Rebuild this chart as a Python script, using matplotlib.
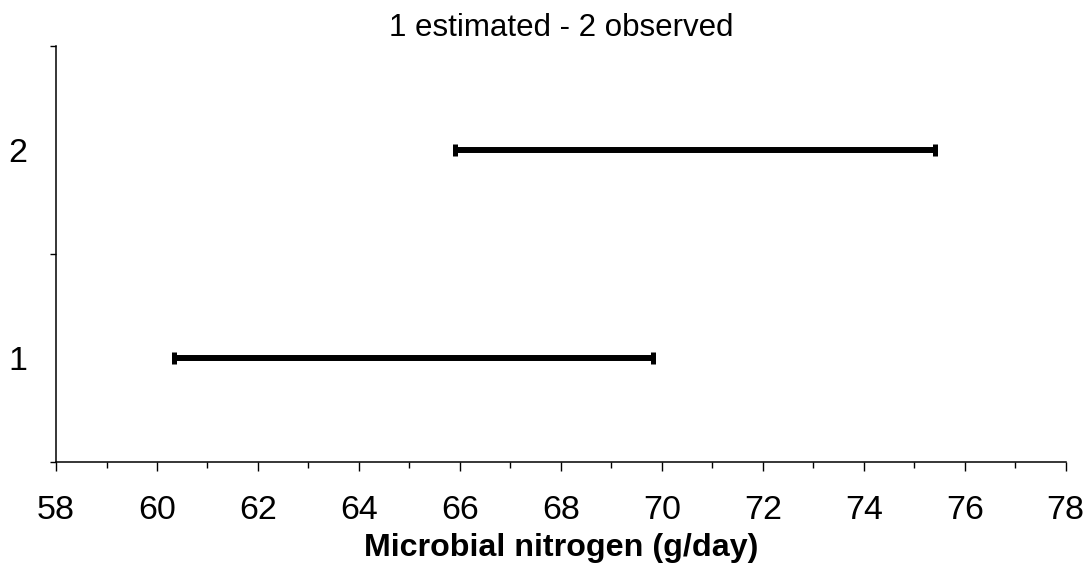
import matplotlib
matplotlib.use("Agg")
import matplotlib.pyplot as plt
import numpy as np

# interval ends (g/day)
groups = [1, 2]
group_labels = ["1", "2"]
low = [60.33, 65.91]
high = [69.83, 75.42]
title = "1 estimated - 2 observed"
xlabel = "Microbial nitrogen (g/day)"

plt.rcParams["font.family"] = ["Liberation Sans", "DejaVu Sans"]

fig = plt.figure(figsize=(10.88, 5.72), dpi=100)
ax = fig.add_axes([0.0515, 0.1923, 0.928, 0.7273])

low = np.array(low)
high = np.array(high)
mid = (low + high) / 2
half = (high - low) / 2
ax.errorbar(mid, groups, xerr=half, fmt="none", ecolor="black",
            elinewidth=4.3, capsize=4.3, capthick=3.6)

ax.set_xlim(58, 78)
ax.set_ylim(0.5, 2.5)
ax.set_xticks(np.arange(58, 79, 2))
ax.set_xticks(np.arange(59, 78, 2), minor=True)
ax.tick_params(axis="x", which="major", length=6.5, width=1, labelsize=24.5, pad=17)
ax.tick_params(axis="x", which="minor", length=4.5, width=1)

# y ticks sit on category borders, labels on category centres
ax.set_yticks([0.5, 1.5, 2.5])
ax.set_yticklabels([])
ax.set_yticks(groups, minor=True)
ax.set_yticklabels(group_labels, minor=True)
ax.tick_params(axis="y", which="major", length=4.5, width=1)
ax.tick_params(axis="y", which="minor", length=0, labelsize=24.5, pad=21)

for s in ["top", "right"]:
    ax.spines[s].set_visible(False)
for s in ["left", "bottom"]:
    ax.spines[s].set_linewidth(1.1)

ax.set_title(title, fontsize=22.5, pad=7)
ax.set_xlabel(xlabel, fontsize=23.2, fontweight="bold", labelpad=5)

fig.savefig("out.png", dpi=100)
